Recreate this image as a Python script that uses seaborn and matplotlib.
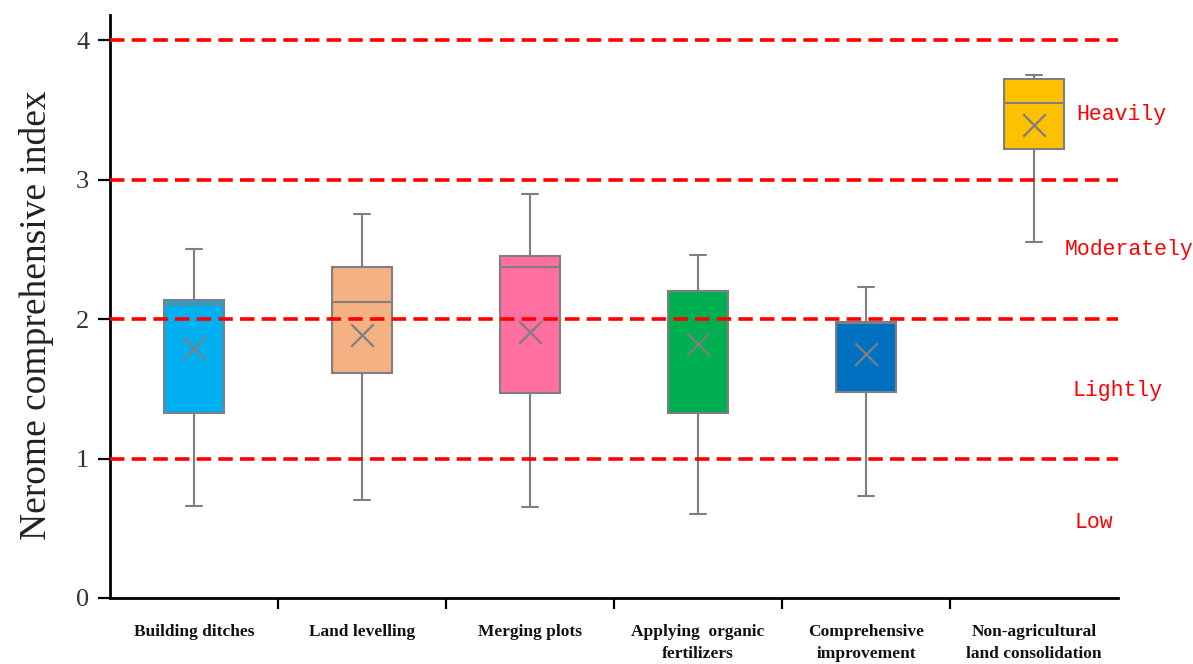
import pandas as pd
import matplotlib.pyplot as plt
import seaborn as sns

# categories and box statistics
categories = ['Building ditches', 'Land levelling', 'Merging plots',
              'Applying  organic\nfertilizers', 'Comprehensive\nimprovement',
              'Non-agricultural\nland consolidation']
lows = [0.66, 0.70, 0.65, 0.60, 0.73, 2.55]
q1s = [1.33, 1.61, 1.47, 1.33, 1.48, 3.22]
medians = [2.11, 2.12, 2.37, 2.20, 1.97, 3.55]
q3s = [2.14, 2.37, 2.45, 2.20, 1.98, 3.72]
highs = [2.50, 2.75, 2.90, 2.46, 2.23, 3.75]
means = [1.79, 1.885, 1.91, 1.82, 1.75, 3.39]
colors = ['#00B0F0', '#F4B183', '#FF6F9F', '#00B050', '#0070C0', '#FFC000']

levels = [1, 2, 3, 4]
zone_names = ['Heavily', 'Moderately', 'Lightly', 'Low']
zone_y = [3.47, 2.50, 1.49, 0.54]
zone_x = [5.25, 5.18, 5.23, 5.24]

# five values per group reproduce the quartiles exactly, whiskers span min..max
rows = []
for c, lo, a, m, b, hi in zip(categories, lows, q1s, medians, q3s, highs):
    for v in (lo, a, m, b, hi):
        rows.append({'group': c, 'value': v})
df = pd.DataFrame(rows)
mean_df = pd.DataFrame({'group': categories, 'value': means})

sns.set_style('white')
plt.rcParams['font.family'] = ['Liberation Serif', 'DejaVu Serif']

fig = plt.figure(figsize=(11.93, 6.64), dpi=100)
ax = fig.add_axes([0.0922, 0.0994, 0.845, 0.878])

sns.boxplot(data=df, x='group', y='value', hue='group', palette=colors,
            whis=(0, 100), width=0.36, linecolor='#7F7F7F', linewidth=1.5,
            saturation=1, legend=False, capwidths=0.1, ax=ax)
for y in levels:
    ax.axhline(y, color='red', linewidth=2.6, dashes=(4, 2), zorder=3)
sns.scatterplot(data=mean_df, x='group', y='value', marker='x', s=260,
                color='#7F7F7F', linewidth=1.6, zorder=4, ax=ax)

for name, x, y in zip(zone_names, zone_x, zone_y):
    ax.text(x, y, name, color='red', fontsize=15.5, family='Liberation Mono',
            va='center', ha='left', clip_on=False)

ax.set_xlim(-0.5, 5.5)
ax.set_ylim(0, 4.18)
ax.set_yticks([0, 1, 2, 3, 4])
ax.set_yticklabels(['0', '1', '2', '3', '4'], fontsize=19, color='#333333')
ax.set_xticks(range(len(categories)))
ax.set_xticklabels(categories, fontsize=12.5, fontweight='bold',
                   linespacing=1.45, color='#111111')
ax.set_xticks([i + 0.5 for i in range(len(categories) - 1)], minor=True)
ax.tick_params(axis='x', which='major', length=0, pad=19)
ax.tick_params(axis='x', which='minor', length=8, width=1.6, color='black',
               direction='out', bottom=True)
ax.tick_params(axis='y', length=9, width=1.6, color='black', direction='out',
               left=True, pad=6)
ax.set_xlabel('')
ax.set_ylabel('Nerome comprehensive index', fontsize=27, color='#222222')
ax.yaxis.set_label_coords(-0.0555, 0.485)

sns.despine(ax=ax)
for side in ('left', 'bottom'):
    ax.spines[side].set_color('black')
    ax.spines[side].set_linewidth(2)

fig.savefig('out.png', dpi=100)
